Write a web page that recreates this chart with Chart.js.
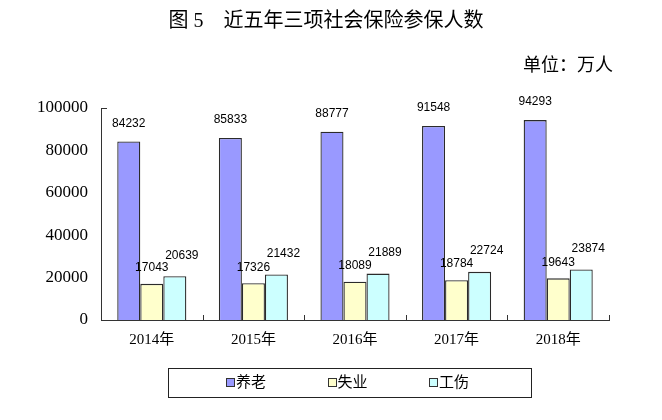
<!DOCTYPE html>
<html>
<head>
<meta charset="utf-8">
<script src="https://cdn.jsdelivr.net/npm/chart.js@4"></script>
<style>
  html, body { margin: 0; padding: 0; background: #fff; }
  #wrap { width: 662px; height: 420px; position: relative; }
</style>
</head>
<body>
<div id="wrap"><canvas id="chart" width="662" height="420"></canvas></div>
<script>
// data
const years = ['2014年', '2015年', '2016年', '2017年', '2018年'];
const pension = [84232, 85833, 88777, 91548, 94293];
const unemployment = [17043, 17326, 18089, 18784, 19643];
const injury = [20639, 21432, 21889, 22724, 23874];
const seriesNames = ['养老', '失业', '工伤'];
const yTicks = [0, 20000, 40000, 60000, 80000, 100000];

const titleText = '图 5　近五年三项社会保险参保人数';
const unitText = '单位：万人';

const cjkSerif = '"Liberation Serif", "Noto Sans CJK SC", serif';
const cjkSans = '"Liberation Sans", "Noto Sans CJK SC", sans-serif';

// value labels above bars, offsets per dataset (dx, dy above top)
const labelOffsets = [[0, 18], [0, 16], [7, 21]];

const valueLabels = {
  id: 'valueLabels',
  afterDatasetsDraw(chart) {
    const ctx = chart.ctx;
    ctx.save();
    ctx.font = '12px ' + cjkSans;
    ctx.fillStyle = '#000';
    ctx.textAlign = 'center';
    ctx.textBaseline = 'middle';
    chart.data.datasets.forEach((ds, i) => {
      const meta = chart.getDatasetMeta(i);
      const off = labelOffsets[i];
      meta.data.forEach((bar, j) => {
        ctx.fillText(String(ds.data[j]), bar.x + off[0], bar.y - off[1]);
      });
    });
    ctx.restore();
  }
};

// title, unit, inner ticks on the x axis and the boxed legend
const decorations = {
  id: 'decorations',
  afterDraw(chart) {
    const ctx = chart.ctx;
    const area = chart.chartArea;
    ctx.save();

    ctx.fillStyle = '#000';
    ctx.textBaseline = 'middle';
    ctx.textAlign = 'center';
    ctx.font = '20px ' + cjkSerif;
    ctx.fillText(titleText, 326, 22);

    ctx.textAlign = 'right';
    ctx.font = '18px ' + cjkSerif;
    ctx.fillText(unitText, 613, 66);

    // tick marks between categories, pointing up
    const xs = chart.scales.x;
    const step = (area.right - area.left) / years.length;
    ctx.strokeStyle = '#333';
    ctx.lineWidth = 1;
    ctx.beginPath();
    for (let i = 1; i <= years.length; i++) {
      const x = Math.round(xs.getPixelForValue(i - 1) + step / 2) + 0.5;
      ctx.moveTo(x, area.bottom);
      ctx.lineTo(x, area.bottom - 5);
    }
    ctx.moveTo(area.left, area.top + 0.5);
    ctx.lineTo(area.left + 6, area.top + 0.5);
    ctx.stroke();

    // legend
    ctx.strokeStyle = '#222';
    ctx.strokeRect(168.5, 368.5, 363, 29);
    ctx.font = '15px ' + cjkSans;
    ctx.textAlign = 'left';
    chart.data.datasets.forEach((ds, i) => {
      const x0 = 226 + i * 101.5;
      ctx.fillStyle = ds.backgroundColor;
      ctx.fillRect(Math.round(x0), 378, 8, 8);
      ctx.strokeStyle = '#333';
      ctx.strokeRect(Math.round(x0) + 0.5, 378.5, 8, 8);
      ctx.fillStyle = '#000';
      ctx.fillText(ds.label, x0 + 10, 383);
    });

    ctx.restore();
  }
};

const ctx = document.getElementById('chart').getContext('2d');

const barStyle = {
  borderColor: '#2b2b2b',
  borderWidth: 1.3,
  categoryPercentage: 0.68,
  barPercentage: 1
};

new Chart(ctx, {
  type: 'bar',
  data: {
    labels: years,
    datasets: [
      Object.assign({ label: seriesNames[0], data: pension, backgroundColor: '#9999FF' }, barStyle),
      Object.assign({ label: seriesNames[1], data: unemployment, backgroundColor: '#FFFFCC' }, barStyle),
      Object.assign({ label: seriesNames[2], data: injury, backgroundColor: '#CCFFFF' }, barStyle)
    ]
  },
  options: {
    responsive: false,
    animation: false,
    layout: {
      padding: { top: 108, right: 53, bottom: 72, left: 0 }
    },
    plugins: {
      legend: { display: false },
      title: { display: false },
      tooltip: { enabled: false }
    },
    scales: {
      x: {
        grid: { display: false, drawTicks: false },
        border: { display: true, color: '#333', width: 1 },
        ticks: {
          color: '#000',
          padding: 11,
          font: { family: cjkSerif, size: 15 }
        },
        afterFit(scale) { scale.height = 28; }
      },
      y: {
        min: 0,
        max: 100000,
        afterBuildTicks(scale) { scale.ticks = yTicks.map(v => ({ value: v })); },
        grid: { display: false, drawTicks: false },
        border: { display: true, color: '#333', width: 1 },
        ticks: {
          color: '#000',
          padding: 13,
          font: { family: cjkSerif, size: 17 },
          callback: v => String(v)
        },
        afterFit(scale) { scale.width = 101; }
      }
    }
  },
  plugins: [valueLabels, decorations]
});
</script>
</body>
</html>
